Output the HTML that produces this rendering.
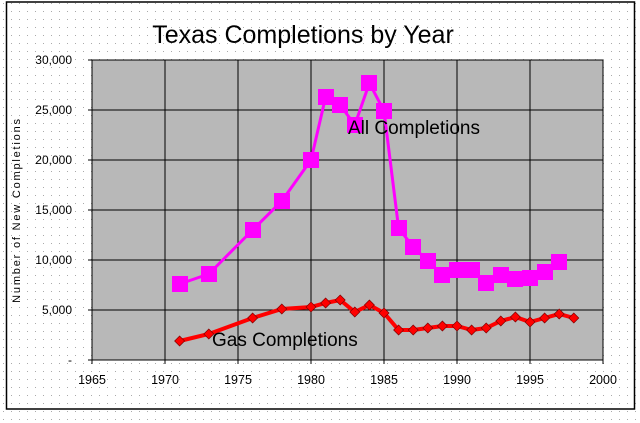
<!DOCTYPE html>
<html><head><style>body{margin:0;background:#fff}svg{display:block}</style></head><body>
<svg width="640" height="423" xmlns="http://www.w3.org/2000/svg" font-family="Liberation Sans, sans-serif">
<defs>
<pattern id="bg" width="8" height="8" patternUnits="userSpaceOnUse"><rect width="8" height="8" fill="#fff"/><rect x="3" y="3" width="1" height="1" fill="#aaa"/></pattern>
</defs>
<rect width="640" height="423" fill="url(#bg)"/>
<rect x="6.5" y="2" width="628" height="407" fill="none" stroke="#000" stroke-width="1.5"/>
<text x="303" y="43" font-size="25" text-anchor="middle">Texas Completions by Year</text>
<rect x="92" y="60" width="511" height="300" fill="#b8b8b8"/>
<g stroke="#000" stroke-width="1" fill="none">
<path d="M92 60H603M92 110H603M92 160H603M92 210H603M92 260H603M92 310H603"/>
<path d="M165 60V360M238 60V360M311 60V360M384 60V360M457 60V360M530 60V360M603 60V360"/>
<path d="M92 60V360H603"/>
<path d="M88 60H92M88 110H92M88 160H92M88 210H92M88 260H92M88 310H92M88 360H92"/>
<path d="M92 360V364M165 360V364M238 360V364M311 360V364M384 360V364M457 360V364M530 360V364M603 360V364"/>
</g>
<g font-size="12" text-anchor="end">
<text x="72" y="64">30,000</text><text x="72" y="114">25,000</text><text x="72" y="164">20,000</text>
<text x="72" y="214">15,000</text><text x="72" y="264">10,000</text><text x="72" y="314">5,000</text><text x="72" y="364">-</text>
</g>
<g font-size="12.5" text-anchor="middle">
<text x="92" y="384">1965</text><text x="165" y="384">1970</text><text x="238" y="384">1975</text><text x="311" y="384">1980</text>
<text x="384" y="384">1985</text><text x="457" y="384">1990</text><text x="530" y="384">1995</text><text x="603" y="384">2000</text>
</g>
<text transform="translate(20,210) rotate(-90)" font-size="11" text-anchor="middle" letter-spacing="1.8">Number of New Completions</text>
<polyline fill="none" stroke="#ff00ff" stroke-width="3" points="179.6,284 208.8,274 252.6,230 281.8,201 311,160 325.6,97 340.2,105 354.8,125 369.4,83 384,111 398.6,228 413.2,247 427.8,261 442.4,275 457,270 471.6,270 486.2,283 500.8,275 515.4,279 530,278 544.6,272 559.2,262"/>
<g fill="#ff00ff">
<rect x="172" y="276" width="16" height="16"/><rect x="201" y="266" width="16" height="16"/><rect x="245" y="222" width="16" height="16"/><rect x="274" y="193" width="16" height="16"/><rect x="303" y="152" width="16" height="16"/><rect x="318" y="89" width="16" height="16"/><rect x="332" y="97" width="16" height="16"/><rect x="347" y="117" width="16" height="16"/><rect x="361" y="75" width="16" height="16"/><rect x="376" y="103" width="16" height="16"/><rect x="391" y="220" width="16" height="16"/><rect x="405" y="239" width="16" height="16"/><rect x="420" y="253" width="16" height="16"/><rect x="434" y="267" width="16" height="16"/><rect x="449" y="262" width="16" height="16"/><rect x="464" y="262" width="16" height="16"/><rect x="478" y="275" width="16" height="16"/><rect x="493" y="267" width="16" height="16"/><rect x="507" y="271" width="16" height="16"/><rect x="522" y="270" width="16" height="16"/><rect x="537" y="264" width="16" height="16"/><rect x="551" y="254" width="16" height="16"/>
</g>
<polyline fill="none" stroke="#ff0000" stroke-width="4" points="179.6,341 208.8,334 252.6,318 281.8,309 311,307 325.6,303 340.2,300 354.8,312 369.4,305 384,313 398.6,330 413.2,330 427.8,328 442.4,326 457,326 471.6,330 486.2,328 500.8,321 515.4,317 530,322 544.6,318 559.2,314 573.8,318"/>
<g fill="#ff0000" stroke="#800000" stroke-width="0.7">
<path d="M0 -5L5 0L0 5L-5 0Z" transform="translate(179.6,341)"/>
<path d="M0 -5L5 0L0 5L-5 0Z" transform="translate(208.8,334)"/><path d="M0 -5L5 0L0 5L-5 0Z" transform="translate(252.6,318)"/><path d="M0 -5L5 0L0 5L-5 0Z" transform="translate(281.8,309)"/><path d="M0 -5L5 0L0 5L-5 0Z" transform="translate(311,307)"/><path d="M0 -5L5 0L0 5L-5 0Z" transform="translate(325.6,303)"/><path d="M0 -5L5 0L0 5L-5 0Z" transform="translate(340.2,300)"/><path d="M0 -5L5 0L0 5L-5 0Z" transform="translate(354.8,312)"/><path d="M0 -5L5 0L0 5L-5 0Z" transform="translate(369.4,305)"/><path d="M0 -5L5 0L0 5L-5 0Z" transform="translate(384,313)"/><path d="M0 -5L5 0L0 5L-5 0Z" transform="translate(398.6,330)"/><path d="M0 -5L5 0L0 5L-5 0Z" transform="translate(413.2,330)"/><path d="M0 -5L5 0L0 5L-5 0Z" transform="translate(427.8,328)"/><path d="M0 -5L5 0L0 5L-5 0Z" transform="translate(442.4,326)"/><path d="M0 -5L5 0L0 5L-5 0Z" transform="translate(457,326)"/><path d="M0 -5L5 0L0 5L-5 0Z" transform="translate(471.6,330)"/><path d="M0 -5L5 0L0 5L-5 0Z" transform="translate(486.2,328)"/><path d="M0 -5L5 0L0 5L-5 0Z" transform="translate(500.8,321)"/><path d="M0 -5L5 0L0 5L-5 0Z" transform="translate(515.4,317)"/><path d="M0 -5L5 0L0 5L-5 0Z" transform="translate(530,322)"/><path d="M0 -5L5 0L0 5L-5 0Z" transform="translate(544.6,318)"/><path d="M0 -5L5 0L0 5L-5 0Z" transform="translate(559.2,314)"/><path d="M0 -5L5 0L0 5L-5 0Z" transform="translate(573.8,318)"/>
</g>
<text x="348" y="134" font-size="19">All Completions</text>
<text x="212" y="346" font-size="19">Gas Completions</text>
</svg>
</body></html>
